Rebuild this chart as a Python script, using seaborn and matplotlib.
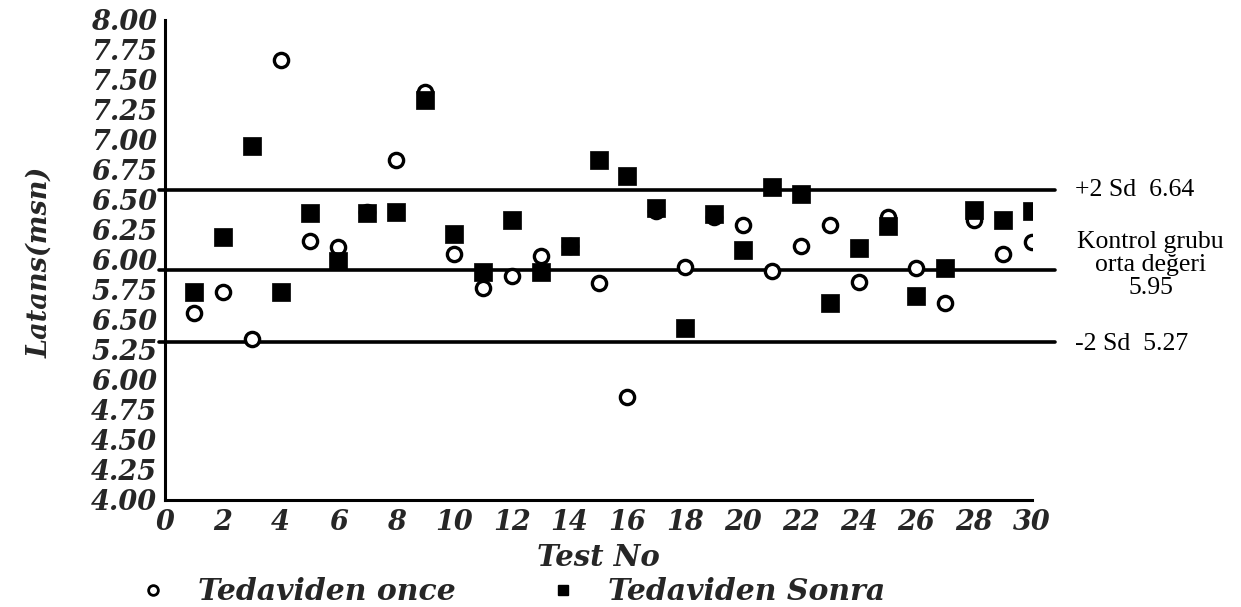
import matplotlib
matplotlib.use("Agg")
import matplotlib.pyplot as plt
import numpy as np
import pandas as pd
import seaborn as sns
from matplotlib.lines import Line2D

# values
test_no = list(range(1, 31))
before = [5.56, 5.73, 5.34, 7.67, 6.16, 6.11, 6.40, 6.83, 7.40, 6.05,
          5.77, 5.87, 6.03, 6.12, 5.81, 4.86, 6.41, 5.94, 6.36, 6.29,
          5.91, 6.12, 6.29, 5.82, 6.36, 5.93, 5.64, 6.33, 6.05, 6.15]
after = [5.73, 6.19, 6.95, 5.73, 6.39, 5.99, 6.39, 6.40, 7.33, 6.22,
         5.90, 6.33, 5.90, 6.12, 6.83, 6.70, 6.43, 5.43, 6.38, 6.08,
         6.61, 6.55, 5.64, 6.10, 6.28, 5.70, 5.93, 6.42, 6.33, 6.41]
series_names = ["Tedaviden once", "Tedaviden Sonra"]

# reference lines (drawn position, printed label)
ref_levels = [6.585, 5.92, 5.32]
ref_labels = ["+2 Sd  6.64", "Kontrol grubu\norta değeri\n5.95", "-2 Sd  5.27"]

y_ticks = np.arange(4.0, 8.01, 0.25)
# labels as printed in the original (5.50 and 5.00 were misprinted)
y_tick_labels = ["4.00", "4.25", "4.50", "4.75", "6.00", "5.25", "6.50", "5.75",
                 "6.00", "6.25", "6.50", "6.75", "7.00", "7.25", "7.50", "7.75", "8.00"]
x_ticks = list(range(0, 31, 2))

sns.set_theme(style="white")
plt.rcParams["font.family"] = ["DejaVu Serif", "DejaVu Sans"]

df = pd.DataFrame({
    "test": test_no * 2,
    "latans": before + after,
    "grup": [series_names[0]] * len(before) + [series_names[1]] * len(after),
})

W, H = 1241, 607
fig = plt.figure(figsize=(W / 100, H / 100), dpi=100)
ax = fig.add_axes([165 / W, 1 - 500 / H, (1032 - 165) / W, (500 - 20) / H])

tick_font = dict(family="DejaVu Serif", weight="bold", style="italic", size=19.5)

for level in ref_levels:
    ax.plot([-0.2, 30.8], [level, level], color="black", lw=2.6,
            clip_on=False, zorder=1)

sns.scatterplot(data=df[df["grup"] == series_names[0]], x="test", y="latans",
                marker="o", s=105, facecolor="white", edgecolor="black",
                linewidth=2.4, ax=ax, zorder=3, legend=False)
sns.scatterplot(data=df[df["grup"] == series_names[1]], x="test", y="latans",
                marker="s", s=150, color="black", edgecolor="black",
                linewidth=0.5, ax=ax, zorder=4, legend=False)

ax.set_xlim(0, 30)
ax.set_ylim(4, 8)
ax.set_xticks(x_ticks)
ax.set_xticklabels([str(t) for t in x_ticks], fontdict=tick_font)
ax.set_yticks(y_ticks)
ax.set_yticklabels(y_tick_labels, fontdict=tick_font)
ax.tick_params(axis="both", direction="inout", length=9, width=1.5,
               color="black", pad=1)
ax.tick_params(axis="x", pad=2)
for side in ["top", "right"]:
    ax.spines[side].set_visible(False)
for side in ["left", "bottom"]:
    ax.spines[side].set_color("black")
    ax.spines[side].set_linewidth(2.2)
ax.set_xlabel("Test No", fontdict={**tick_font, "size": 21}, labelpad=5)
ax.set_ylabel("")

fig.text(40 / W, 1 - 262 / H, "Latans(msn)", rotation=90, ha="center",
         va="center", **tick_font)

ann_font = dict(family="Liberation Serif", size=18.5, color="black")
ax.text(31.5, ref_levels[0], ref_labels[0], ha="left", va="center",
        clip_on=False, **ann_font)
ax.text(34.1, 5.96, ref_labels[1], ha="center", va="center",
        linespacing=1.05, clip_on=False, **ann_font)
ax.text(31.5, ref_levels[2] - 0.02, ref_labels[2], ha="left", va="center",
        clip_on=False, **ann_font)

handles = [
    Line2D([], [], marker="o", ls="", markersize=7, markerfacecolor="white",
           markeredgecolor="black", markeredgewidth=2),
    Line2D([], [], marker="s", ls="", markersize=7, color="black"),
]
ax.legend(handles, series_names, loc="center left", ncol=2, frameon=False,
          bbox_to_anchor=(144 / W, 1 - 592 / H), bbox_transform=fig.transFigure,
          handlelength=0.6, handletextpad=1.2, columnspacing=3.3,
          borderpad=0, borderaxespad=0,
          prop=dict(family="DejaVu Serif", weight="bold",
                    style="italic", size=21.5))

fig.savefig("out.png", dpi=100)
